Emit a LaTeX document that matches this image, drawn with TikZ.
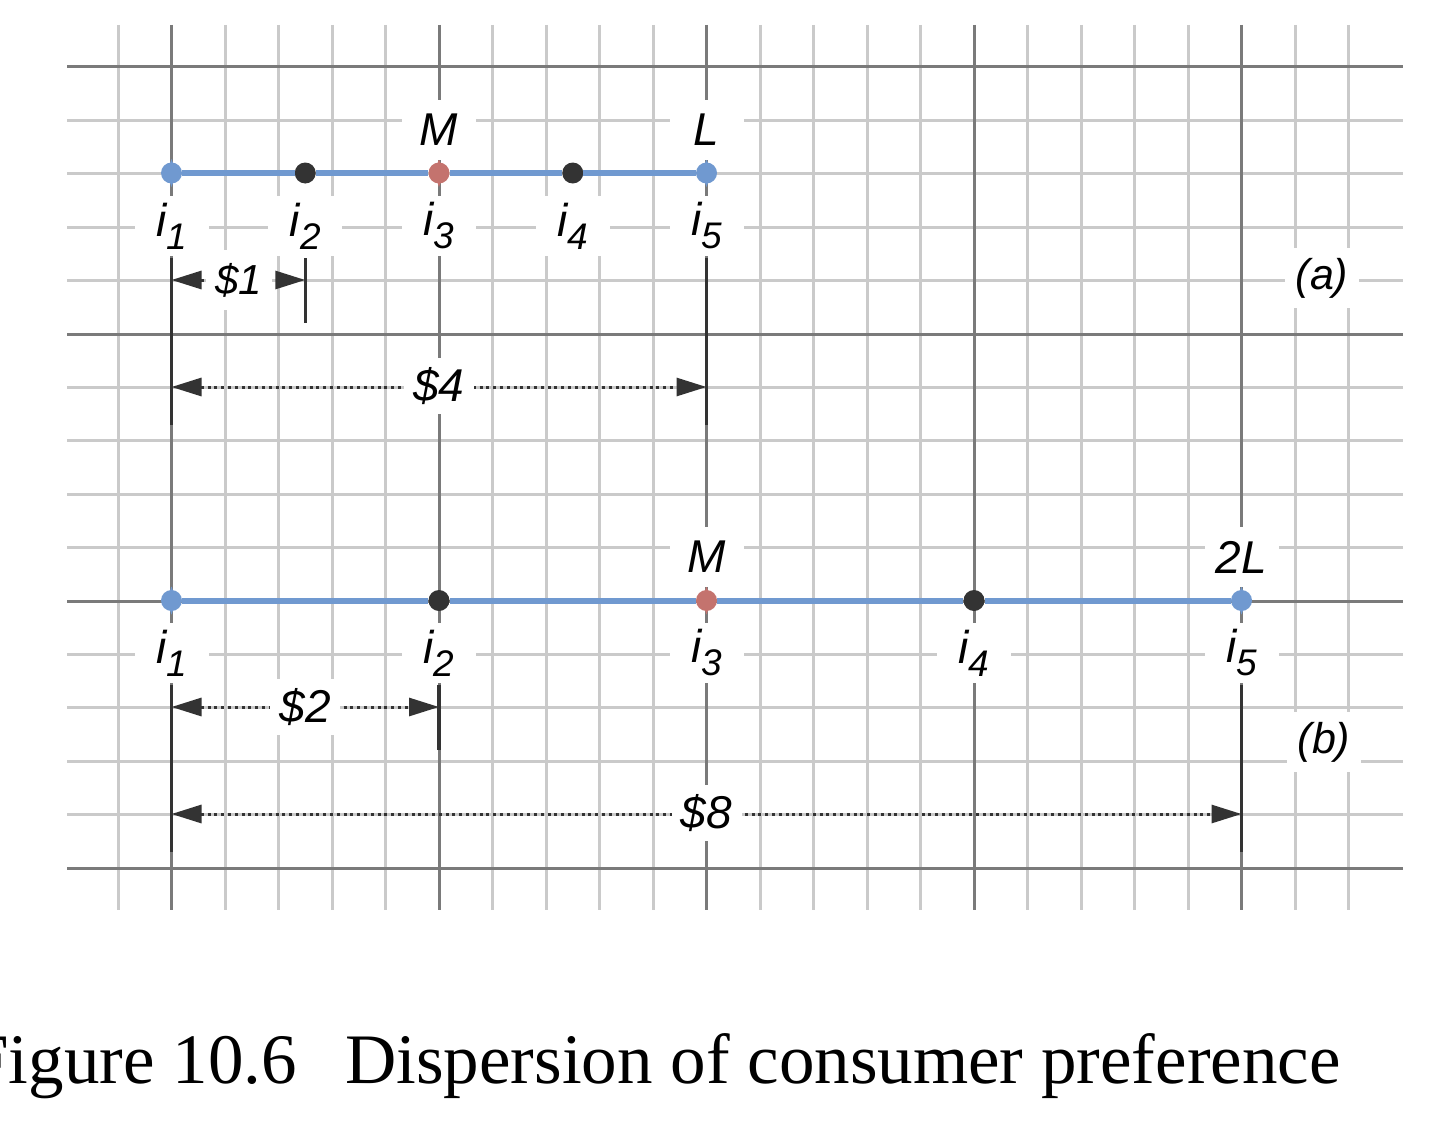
\documentclass[tikz,border=0pt]{standalone}
\usepackage{fontspec}
\setmainfont{Liberation Serif}
\setsansfont{Liberation Sans}
\usetikzlibrary{arrows.meta}
\definecolor{gridlight}{HTML}{CACACA}
\definecolor{griddark}{HTML}{7A7A7A}
\definecolor{lineblue}{HTML}{7099D0}
\definecolor{dotred}{HTML}{C4736E}
\definecolor{ink}{HTML}{333333}
\newcommand\il[1]{i\raisebox{-13pt}{\fontsize{37}{37}\selectfont #1}}
\begin{document}
\begin{tikzpicture}[x=1pt,y=-1pt,
  gridlt/.style={gridlight,line width=3pt},
  griddk/.style={griddark,line width=3pt},
  seg/.style={lineblue,line width=6pt},
  dotnode/.style={circle,inner sep=0pt,minimum size=21pt},
  lbl/.style={fill=white,inner sep=0pt,minimum width=74pt,minimum height=60pt,text=black,
    font=\sffamily\itshape\fontsize{46}{46}\selectfont},
  ticknode/.style={ink,line width=3.5pt},
  dimline/.style={ink,line width=3pt,dash pattern=on 3pt off 3.8pt,
    {Triangle[length=30pt,width=18pt]}-{Triangle[length=30pt,width=18pt]}},
  captext/.style={inner sep=0pt,font=\rmfamily\fontsize{71}{71}\selectfont},
  tipmark/.style={fill=#1}
]
\useasboundingbox (0,0) rectangle (1440,1140);
% grid
\foreach \k in {0,...,23} \draw[gridlt] ({118+53.5*\k},25) -- ({118+53.5*\k},910);
\foreach \j in {0,...,15} \draw[gridlt] (67,{67+53.4*\j}) -- (1403,{67+53.4*\j});
\foreach \k in {1,6,11,16,21} \draw[griddk] ({118+53.5*\k},25) -- ({118+53.5*\k},910);
\foreach \j in {0,5,10,15} \draw[griddk] (67,{67+53.4*\j}) -- (1403,{67+53.4*\j});

% ---- (a) ----
\node[dotnode,fill=lineblue] (pa1) at (171.5,173) {};
\node[dotnode,fill=ink]      (pa2) at (305.25,173) {};
\node[dotnode,fill=dotred]   (pa3) at (439,173) {};
\node[dotnode,fill=ink]      (pa4) at (572.75,173) {};
\node[dotnode,fill=lineblue] (pa5) at (706.5,173) {};
\draw[seg] (pa1) -- (pa2) (pa2) -- (pa3) (pa3) -- (pa4) (pa4) -- (pa5);
\foreach \p/\c in {pa1/lineblue,pa3/dotred,pa5/lineblue}
  \fill[\c,shift={(\p)}] (0,-14) -- (5,0) -- (0,14) -- (-5,0) -- cycle;
\node[lbl] (Ma) at (439,130) {M};
\node[lbl] (La) at (706.5,130) {L};
\node[lbl] (ia1) at (171.5,226) {\il1};
\node[lbl] (ia2) at (305.25,226) {\il2};
\node[lbl] (ia3) at (439,226) {\il3};
\node[lbl] (ia4) at (572.75,226) {\il4};
\node[lbl] (ia5) at (706.5,226) {\il5};
\coordinate (ta1t) at (171.5,258);  \coordinate (ta1b) at (171.5,425);
\coordinate (ta2t) at (305.25,258); \coordinate (ta2b) at (305.25,323);
\coordinate (ta5t) at (706.5,258);  \coordinate (ta5b) at (706.5,425);
\draw[ticknode] (ta1t) -- (ta1b);
\draw[ticknode] (ta2t) -- (ta2b);
\draw[ticknode] (ta5t) -- (ta5b);
\coordinate (da1l) at (171.5,280); \coordinate (da1r) at (305.25,280);
\coordinate (da4l) at (171.5,387); \coordinate (da4r) at (706.5,387);
\draw[dimline] (da1l) -- (da1r);
\draw[dimline] (da4l) -- (da4r);
\node[lbl,minimum width=66pt,font=\sffamily\itshape\fontsize{42}{42}\selectfont] (s1) at (238.5,280) {\$1};
\node[lbl,minimum width=70pt,minimum height=56pt] (s4) at (439,386) {\$4};
\node[lbl,font=\sffamily\itshape\fontsize{43}{43}\selectfont] (la) at (1322,278) {(a)};

% ---- (b) ----
\node[dotnode,fill=lineblue] (pb1) at (171.5,600.5) {};
\node[dotnode,fill=ink]      (pb2) at (439,600.5) {};
\node[dotnode,fill=dotred]   (pb3) at (706.5,600.5) {};
\node[dotnode,fill=ink]      (pb4) at (974,600.5) {};
\node[dotnode,fill=lineblue] (pb5) at (1241.5,600.5) {};
\draw[seg] (pb1) -- (pb2) (pb2) -- (pb3) (pb3) -- (pb4) (pb4) -- (pb5);
\foreach \p/\c in {pb1/lineblue,pb3/dotred,pb5/lineblue}
  \fill[\c,shift={(\p)}] (0,-14) -- (5,0) -- (0,14) -- (-5,0) -- cycle;
\node[lbl] (Mb) at (706.5,557) {M};
\node[lbl] (Lb) at (1241.5,557) {2L};
\node[lbl] (ib1) at (171.5,653) {\il1};
\node[lbl] (ib2) at (439,653) {\il2};
\node[lbl] (ib3) at (706.5,653) {\il3};
\node[lbl] (ib4) at (974,653) {\il4};
\node[lbl] (ib5) at (1241.5,653) {\il5};
\coordinate (tb1t) at (171.5,685);  \coordinate (tb1b) at (171.5,852);
\coordinate (tb2t) at (439,685);    \coordinate (tb2b) at (439,750);
\coordinate (tb5t) at (1241.5,685); \coordinate (tb5b) at (1241.5,852);
\draw[ticknode] (tb1t) -- (tb1b);
\draw[ticknode] (tb2t) -- (tb2b);
\draw[ticknode] (tb5t) -- (tb5b);
\coordinate (db2l) at (171.5,707); \coordinate (db2r) at (439,707);
\coordinate (db8l) at (171.5,814); \coordinate (db8r) at (1241.5,814);
\draw[dimline] (db2l) -- (db2r);
\draw[dimline] (db8l) -- (db8r);
\node[lbl,minimum width=70pt,minimum height=56pt] (s2) at (305.25,707) {\$2};
\node[lbl,minimum width=70pt,minimum height=56pt] (s8) at (706.5,813) {\$8};
\node[lbl,font=\sffamily\itshape\fontsize{43}{43}\selectfont] (lb) at (1324,742) {(b)};

% caption
\node[captext,anchor=base east] (cap1) at (297,1083) {Figure 10.6};
\node[captext,anchor=base west] (cap2) at (345,1083) {Dispersion of consumer preference};
\end{tikzpicture}
\end{document}
